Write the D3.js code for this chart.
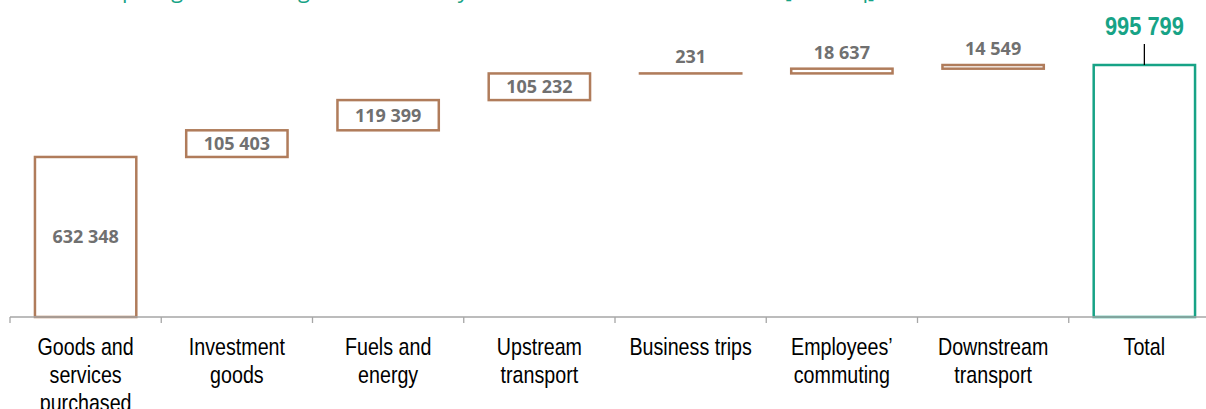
<!DOCTYPE html>
<html>
<head>
<meta charset="utf-8">
<script src="https://cdn.jsdelivr.net/npm/d3@7"></script>
<style>
  html, body { margin: 0; padding: 0; background: #fff; }
  svg { display: block; }
</style>
</head>
<body>
<svg id="chart" width="1206" height="409"></svg>
<script>
// Scope 3 emissions by category, stacked as a waterfall ending in the total
const categories = ["Goods and services purchased", "Investment goods", "Fuels and energy",
  "Upstream transport", "Business trips", "Employees’ commuting", "Downstream transport", "Total"];
const categoryLines = [["Goods and", "services", "purchased"], ["Investment", "goods"], ["Fuels and", "energy"],
  ["Upstream", "transport"], ["Business trips"], ["Employees’", "commuting"], ["Downstream", "transport"], ["Total"]];
const stepValues = [632348, 105403, 119399, 105232, 231, 18637, 14549];
const totalValue = 995799;
const valueLabels = ["632 348", "105 403", "119 399", "105 232", "231", "18 637", "14 549", "995 799"];
const titleText = "Scope 3 greenhouse gas emissions by source and total value in 2022 [tCO2eq]";

const BROWN = "#b07c5b", TEAL = "#17a386", GREY_TEXT = "#707070", AXIS = "#a6a6a6";
const NARROW = 0.82; // horizontal squeeze giving a condensed face

const svg = d3.select("#chart");

// title sits mostly above the visible area; sized so it spans from "Scope" to the unit bracket
const title = svg.append("text")
  .attr("x", 0).attr("y", -2)
  .attr("font-family", "'Open Sans', sans-serif")
  .attr("font-size", 20)
  .attr("fill", TEAL)
  .text(titleText);
{
  const node = title.node();
  const iP = titleText.indexOf("p"), iB = titleText.indexOf("[");
  const pX = node.getStartPositionOfChar(iP).x, bX = node.getStartPositionOfChar(iB).x;
  const k = (785 - 122) / (bX - pX);
  title.attr("font-size", 20 * k).attr("x", 122 - pX * k);
}

const axisY = 317;
const x = d3.scaleBand().domain(categories).range([10, 1220]).paddingInner(0.33).paddingOuter(0.165);
const y = d3.scaleLinear().domain([0, totalValue]).range([axisY, 65]);

// running start/end of each floating box
let acc = 0;
const steps = stepValues.map((v, i) => {
  const d = { cat: categories[i], start: acc, end: acc + v, label: valueLabels[i] };
  acc += v;
  return d;
});

const g = svg.append("g");

// waterfall steps
g.selectAll("rect.step").data(steps).join("rect")
  .attr("class", "step")
  .attr("x", d => x(d.cat))
  .attr("width", x.bandwidth())
  .attr("y", d => y(d.end))
  .attr("height", d => Math.max(0.01, y(d.start) - y(d.end)))
  .attr("fill", "#fff")
  .attr("stroke", BROWN)
  .attr("stroke-width", 2.5);

g.selectAll("text.val").data(steps).join("text")
  .attr("class", "val")
  .attr("x", d => x(d.cat) + x.bandwidth() / 2)
  .attr("y", d => {
    const h = y(d.start) - y(d.end);
    return h > 22 ? (y(d.start) + y(d.end)) / 2 + 6.5 : y(d.end) - 10;
  })
  .attr("text-anchor", "middle")
  .attr("font-family", "'Open Sans', sans-serif")
  .attr("font-weight", 700)
  .attr("font-size", 18)
  .attr("fill", GREY_TEXT)
  .text(d => d.label);

// total bar
const totalCat = categories[categories.length - 1];
g.append("rect")
  .attr("x", x(totalCat))
  .attr("width", x.bandwidth())
  .attr("y", y(totalValue))
  .attr("height", y(0) - y(totalValue))
  .attr("fill", "#fff")
  .attr("stroke", TEAL)
  .attr("stroke-width", 2.5);

const tcx = x(totalCat) + x.bandwidth() / 2;
g.append("line")
  .attr("x1", tcx).attr("x2", tcx)
  .attr("y1", y(totalValue) - 21).attr("y2", y(totalValue))
  .attr("stroke", "#000").attr("stroke-width", 1.3);

g.append("text")
  .attr("transform", `translate(${tcx},${y(totalValue) - 30}) scale(${NARROW + 0.02},1)`)
  .attr("text-anchor", "middle")
  .attr("font-family", "'Liberation Sans', Arial, sans-serif")
  .attr("font-weight", 700)
  .attr("font-size", 26)
  .attr("fill", TEAL)
  .text(valueLabels[valueLabels.length - 1]);

// category axis: labels via d3.axisBottom, boundary ticks drawn between bands
const axis = d3.axisBottom(x).tickSize(0).tickFormat(() => "");
const axisG = svg.append("g").attr("transform", `translate(0,${axisY})`).call(axis);
axisG.select(".domain").remove();

axisG.append("line")
  .attr("x1", 10).attr("x2", 1220).attr("y1", 0).attr("y2", 0)
  .attr("stroke", AXIS).attr("stroke-width", 1.3);

const step = x.step();
const boundaries = categories.map(c => x(c) - x.paddingInner() * step / 2);
axisG.selectAll("line.bound").data(boundaries).join("line")
  .attr("class", "bound")
  .attr("x1", d => d).attr("x2", d => d)
  .attr("y1", 0).attr("y2", 6)
  .attr("stroke", AXIS).attr("stroke-width", 1.3);

axisG.selectAll(".tick").each(function (c, i) {
  const t = d3.select(this).select("text")
    .attr("y", 0).attr("dy", null)
    .attr("transform", `scale(${NARROW},1)`)
    .attr("font-family", "'Liberation Sans', Arial, sans-serif")
    .attr("font-size", 24)
    .attr("fill", "#000");
  categoryLines[i].forEach((line, k) => {
    t.append("tspan").attr("x", 0).attr("y", 38 + k * 28).text(line);
  });
});
</script>
</body>
</html>
